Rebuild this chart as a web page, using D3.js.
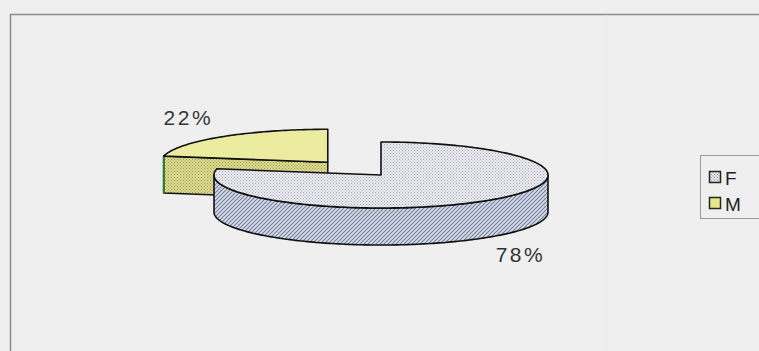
<!DOCTYPE html>
<html>
<head>
<meta charset="utf-8">
<script src="https://cdn.jsdelivr.net/npm/d3@7"></script>
<style>
  html, body { margin: 0; padding: 0; background: #efefef; }
  svg { display: block; }
  text { font-family: "Liberation Sans", Arial, sans-serif; }
</style>
</head>
<body>
<svg id="chart" width="759" height="351"></svg>
<script>
// Sex distribution: share of respondents by category
const categories = ["F", "M"];
const values = [78, 22];
const valueLabels = ["78%", "22%"];

const W = 759, H = 351;
const svg = d3.select("#chart");

// ---- patterns ----
const defs = svg.append("defs");

function dotPattern(id, bg, dot, size) {
  const p = defs.append("pattern").attr("id", id)
    .attr("width", size).attr("height", size).attr("patternUnits", "userSpaceOnUse");
  p.append("rect").attr("width", size).attr("height", size).attr("fill", bg);
  p.append("rect").attr("x", 0).attr("y", 0).attr("width", 1).attr("height", 1).attr("fill", dot);
  p.append("rect").attr("x", size / 2).attr("y", size / 2).attr("width", 1).attr("height", 1).attr("fill", dot);
}
dotPattern("fTop", "#eeeef3", "#a4a4b6", 3);
dotPattern("mFace", "#dcdc8c", "#9c9a5c", 3);
dotPattern("fSwatch", "#e6e6ee", "#9a9aaa", 3);

const hatch = defs.append("pattern").attr("id", "fSide")
  .attr("width", 4).attr("height", 4).attr("patternUnits", "userSpaceOnUse");
hatch.append("rect").attr("width", 4).attr("height", 4).attr("fill", "#d9dde8");
hatch.append("path").attr("d", "M-1,1 L1,-1 M0,4 L4,0 M3,5 L5,3")
  .attr("stroke", "#74819e").attr("stroke-width", 1.2);

// ---- frame ----
svg.append("path").attr("d", `M10.5,${H} L10.5,14.5 L${W},14.5`)
  .attr("fill", "none").attr("stroke", "#8c8c8c").attr("stroke-width", 1.5);
svg.append("line").attr("x1", 606).attr("x2", 606).attr("y1", 15).attr("y2", H)
  .attr("stroke", "#e5e5e5").attr("stroke-width", 1);

// ---- pie geometry ----
const cx = 381, cy = 175, rx = 167, ry = 33, depth = 37, explode = 0.5;

const pie = d3.pie().sort(null).value(d => d);
const arcs = pie(values);

// project a clockwise-from-top angle on the tilted ellipse
const px = (c, a, k = 1) => c[0] + rx * k * Math.sin(a);
const py = (c, a, k = 1) => c[1] - ry * k * Math.cos(a);

function centerOf(d, i) {
  if (i === 0) return [cx, cy];
  const mid = (d.startAngle + d.endAngle) / 2;
  return [cx + rx * explode * Math.sin(mid), cy - ry * explode * Math.cos(mid)];
}

function arcPts(c, a0, a1, dy = 0) {
  const n = Math.max(2, Math.ceil(Math.abs(a1 - a0) / 0.02));
  return d3.range(n + 1).map(j => {
    const a = a0 + (a1 - a0) * j / n;
    return [px(c, a), py(c, a) + dy];
  });
}

const line = d3.line();
const color = d3.scaleOrdinal().domain(categories).range(["url(#fTop)", "#ececa0"]);

// draw back slice first (M), then front slice (F)
const order = [1, 0];
order.forEach(i => {
  const d = arcs[i];
  const c = centerOf(d, i);
  const g = svg.append("g");

  // visible radial face at the slice start (faces the viewer for M)
  if (i === 1) {
    const a = d.startAngle;
    const face = [[c[0], c[1]], [px(c, a), py(c, a)], [px(c, a), py(c, a) + depth], [c[0], c[1] + depth]];
    g.append("path").attr("d", line(face) + "Z")
      .attr("fill", "url(#mFace)").attr("stroke", "#111").attr("stroke-width", 1.5)
      .attr("stroke-linejoin", "round");
    g.append("line")
      .attr("x1", px(c, a)).attr("y1", py(c, a))
      .attr("x2", px(c, a)).attr("y2", py(c, a) + depth)
      .attr("stroke", "#2f7a2f").attr("stroke-width", 2);
  }

  // outer wall: the front half of the rim covered by this slice
  const w0 = Math.max(d.startAngle, Math.PI / 2), w1 = Math.min(d.endAngle, 3 * Math.PI / 2);
  if (w1 > w0) {
    const top = arcPts(c, w0, w1);
    const bot = arcPts(c, w1, w0, depth);
    g.append("path").attr("d", line(top.concat(bot)) + "Z")
      .attr("fill", "url(#fSide)").attr("stroke", "#111").attr("stroke-width", 1.6)
      .attr("stroke-linejoin", "round");
  }

  // top cap
  const cap = [[c[0], c[1]]].concat(arcPts(c, d.startAngle, d.endAngle));
  g.append("path").attr("d", line(cap) + "Z")
    .attr("fill", color(categories[i])).attr("stroke", "#111").attr("stroke-width", 1.6)
    .attr("stroke-linejoin", "round");
});

// ---- value labels ----
arcs.forEach((d, i) => {
  const c = centerOf(d, i);
  const mid = (d.startAngle + d.endAngle) / 2;
  const front = Math.cos(mid) < 0;
  const x = px(c, mid, 1.31);
  const y = py(c, mid, 1.31) + (front ? depth + 9 : -11);
  svg.append("text").attr("x", x).attr("y", y)
    .attr("text-anchor", "middle").attr("dominant-baseline", "central")
    .attr("font-size", 21).attr("letter-spacing", 2.5)
    .attr("fill", i === 1 ? "#2f3a37" : "#333")
    .text(valueLabels[i]);
});

// ---- legend ----
const legend = svg.append("g");
legend.append("rect").attr("x", 700.5).attr("y", 155.5).attr("width", 80).attr("height", 63)
  .attr("fill", "#efefef").attr("stroke", "#9a9a9a").attr("stroke-width", 1);
const ly = d3.scalePoint().domain(categories).range([177, 203]);
const swatch = d3.scaleOrdinal().domain(categories).range(["url(#fSwatch)", "#e6e68c"]);
categories.forEach(k => {
  legend.append("rect").attr("x", 709.5).attr("y", ly(k) - 5.5).attr("width", 11).attr("height", 11)
    .attr("fill", swatch(k)).attr("stroke", "#1e2a1e").attr("stroke-width", 1.5);
  legend.append("text").attr("x", 725).attr("y", ly(k) + 1).attr("dominant-baseline", "central")
    .attr("font-size", 19).attr("fill", "#222").text(k);
});
</script>
</body>
</html>
